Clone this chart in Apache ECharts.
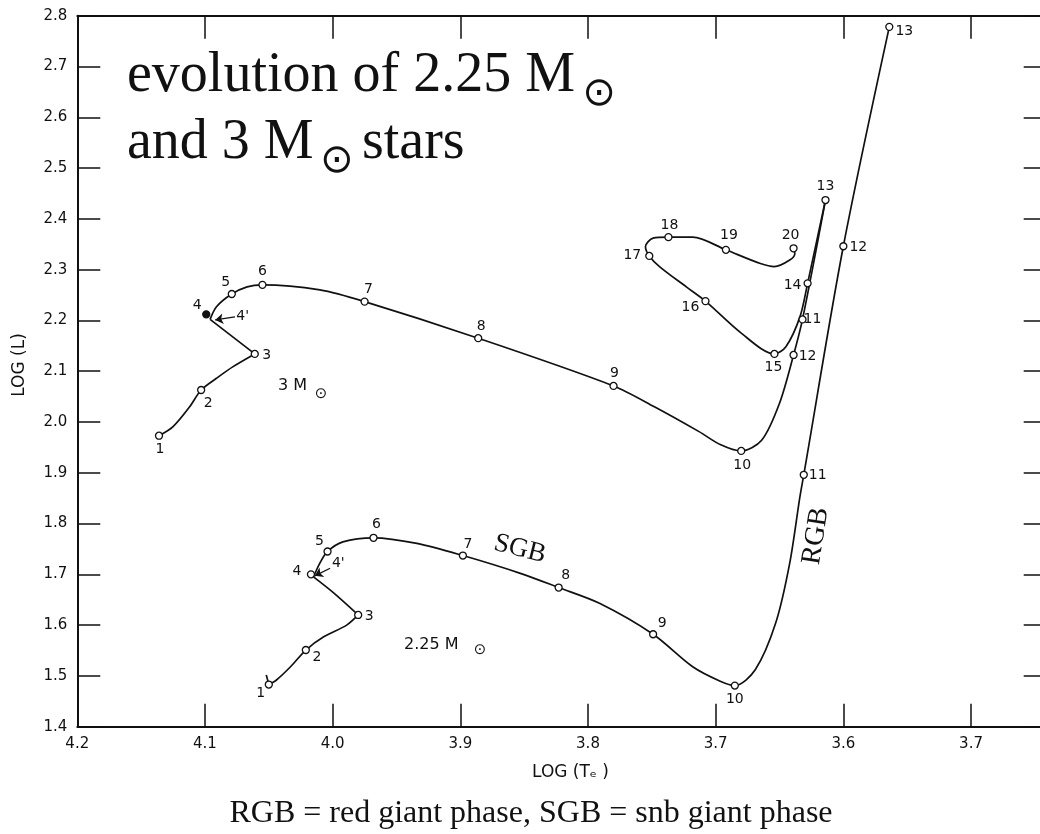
<!DOCTYPE html>
<html>
<head>
<meta charset="utf-8">
<script src="https://cdn.jsdelivr.net/npm/echarts@6/dist/echarts.min.js"></script>
<style>
  html, body { margin: 0; padding: 0; background: #ffffff; }
  #chart { width: 1040px; height: 834px; }
</style>
</head>
<body>
<div id="chart"></div>
<script>
// Evolutionary tracks in the HR diagram: [log Te, log L]
const track3 = [
  [4.136, 1.973], [4.125, 1.991], [4.112, 2.030], [4.103, 2.063], [4.091, 2.086], [4.078, 2.109], [4.061, 2.134],
  [4.096, 2.202], [4.091, 2.227], [4.079, 2.252], [4.067, 2.266], [4.055, 2.270], [4.010, 2.260], [3.975, 2.237],
  [3.886, 2.165], [3.780, 2.071], [3.748, 2.030], [3.713, 1.981], [3.696, 1.955], [3.680, 1.943], [3.664, 1.964],
  [3.650, 2.037], [3.639, 2.132], [3.632, 2.202], [3.614, 2.437],
  [3.628, 2.273], [3.634, 2.207], [3.645, 2.148], [3.654, 2.134], [3.680, 2.175], [3.708, 2.238], [3.723, 2.266],
  [3.744, 2.306], [3.752, 2.327], [3.755, 2.345], [3.749, 2.362], [3.737, 2.364], [3.718, 2.364], [3.692, 2.339],
  [3.665, 2.312], [3.654, 2.306], [3.642, 2.319], [3.638, 2.332], [3.639, 2.342]
];
const track3Corners = [6, 7, 24];

const track225 = [
  [4.052, 1.502], [4.050, 1.483], [4.044, 1.492], [4.033, 1.518], [4.021, 1.551], [4.007, 1.577], [3.989, 1.600],
  [3.980, 1.620], [3.999, 1.663], [4.015, 1.695], [4.010, 1.722], [4.004, 1.745], [3.992, 1.764], [3.968, 1.772],
  [3.934, 1.761], [3.898, 1.737], [3.853, 1.702], [3.823, 1.674], [3.791, 1.643], [3.749, 1.582], [3.718, 1.518],
  [3.696, 1.489], [3.685, 1.481], [3.669, 1.512], [3.653, 1.604], [3.642, 1.722], [3.634, 1.853], [3.631, 1.896],
  [3.600, 2.346], [3.564, 2.778]
];
const track225Corners = [1, 7, 9];

// Numbered evolutionary stages
const stages3 = ['1', '2', '3', '5', '6', '7', '8', '9', '10', '12', '11', '13', '14', '15', '16', '17', '18', '19', '20'];
const stage3Pts = [
  [4.136, 1.973], [4.103, 2.063], [4.061, 2.134], [4.079, 2.252], [4.055, 2.270], [3.975, 2.237], [3.886, 2.165],
  [3.780, 2.071], [3.680, 1.943], [3.639, 2.132], [3.632, 2.202], [3.614, 2.437], [3.628, 2.273], [3.654, 2.134],
  [3.708, 2.238], [3.752, 2.327], [3.737, 2.364], [3.692, 2.339], [3.639, 2.342]
];
const stage3Dot = ['4'];
const stage3DotPts = [[4.099, 2.212]];

const stages225 = ['1', '2', '3', '4', '5', '6', '7', '8', '9', '10', '11', '12', '13'];
const stage225Pts = [
  [4.050, 1.483], [4.021, 1.551], [3.980, 1.620], [4.017, 1.700], [4.004, 1.745], [3.968, 1.772], [3.898, 1.737],
  [3.823, 1.674], [3.749, 1.582], [3.685, 1.481], [3.631, 1.896], [3.600, 2.346], [3.564, 2.778]
];

// 4' arrows: [from, to]
const arrow3 = [[4.0765, 2.207], [4.092, 2.201]];
const arrow225 = [[4.002, 1.712], [4.014, 1.697]];

// Axis ticks
const xTickValues = [4.2, 4.1, 4.0, 3.9, 3.8, 3.7, 3.6, 3.5];
const xTickText = ['4.2', '4.1', '4.0', '3.9', '3.8', '3.7', '3.6', '3.7'];
const yTickValues = [1.4, 1.5, 1.6, 1.7, 1.8, 1.9, 2.0, 2.1, 2.2, 2.3, 2.4, 2.5, 2.6, 2.7, 2.8];
const yTickText = ['1.4', '1.5', '1.6', '1.7', '1.8', '1.9', '2.0', '2.1', '2.2', '2.3', '2.4', '2.5', '2.6', '2.7', '2.8'];

// Label placement (pixel offsets from each marker)
const labelOffset3 = [[1, 14], [7, 13], [12, 1], [-6, -12], [0, -14], [4, -12], [3, -12], [1, -13], [1, 14], [14, 1],
  [10, 0], [0, -14], [-15, 2], [-1, 13], [-15, 6], [-17, -1], [1, -12], [3, -14], [-3, -13]];
const labelOffset3Dot = [[-9, -9]];
const labelOffset225 = [[-8, 9], [11, 7], [11, 1], [-14, -3], [-8, -10], [3, -13], [5, -11], [7, -12], [9, -11],
  [0, 14], [14, 1], [15, 1], [15, 4]];

const INK = '#111111';
const SANS = '"DejaVu Sans", sans-serif';
const SERIF = '"Liberation Serif", serif';

function splitAt(track, corners) {
  const out = [];
  let s = 0;
  for (const c of corners) { out.push(track.slice(s, c + 1)); s = c; }
  out.push(track.slice(s));
  return out;
}

function lineSeries(piece) {
  return {
    type: 'line', data: piece, smooth: 0.3, showSymbol: false, silent: true, z: 2,
    lineStyle: { color: INK, width: 1.7 }
  };
}

function stageSeries(names, pts, offsets, filled) {
  return {
    type: 'scatter', z: 5, silent: true,
    symbol: 'circle', symbolSize: 7,
    itemStyle: { color: filled ? INK : '#ffffff', borderColor: INK, borderWidth: 1.3, opacity: 1 },
    label: {
      show: true, position: 'inside', align: 'center', verticalAlign: 'middle',
      fontFamily: SANS, fontSize: 14, color: INK,
      formatter: p => names[p.dataIndex]
    },
    data: pts.map((v, i) => ({ value: v, label: { offset: offsets[i] } }))
  };
}

function arrowLine(a) {
  return [{ coord: a[0], symbol: 'none' }, { coord: a[1], symbol: 'arrow' }];
}

const series = [];
splitAt(track3, track3Corners).forEach(p => series.push(lineSeries(p)));
splitAt(track225, track225Corners).forEach(p => series.push(lineSeries(p)));
series.push(stageSeries(stages3, stage3Pts, labelOffset3, false));
series.push(stageSeries(stage3Dot, stage3DotPts, labelOffset3Dot, true));
const s225 = stageSeries(stages225, stage225Pts, labelOffset225, false);
s225.markLine = {
  silent: true, animation: false, symbolSize: 8,
  lineStyle: { color: INK, width: 1.3, type: 'solid' },
  label: { show: false },
  data: [arrowLine(arrow3), arrowLine(arrow225)]
};
series.push(s225);

const tickFmt = (vals, txt) => v => {
  const i = vals.findIndex(t => Math.abs(t - v) < 1e-6);
  return i < 0 ? '' : txt[i];
};

const axisLineStyle = { color: INK, width: 2 };
const tickStyle = { color: INK, width: 1.5 };

const chart = echarts.init(document.getElementById('chart'), null, { renderer: 'canvas' });
chart.setOption({
  animation: false,
  backgroundColor: '#ffffff',
  grid: { left: 77.3, top: 15.7, width: 1021.4, height: 711, containLabel: false, outerBoundsMode: 'none' },
  xAxis: [
    {
      type: 'value', min: 3.4, max: 4.2, interval: 0.1, inverse: true, position: 'bottom',
      axisLine: { show: true, onZero: false, lineStyle: axisLineStyle },
      axisTick: { show: true, inside: true, length: 23, lineStyle: tickStyle },
      axisLabel: { show: true, margin: 10, fontFamily: SANS, fontSize: 15, color: INK,
        showMinLabel: true, showMaxLabel: true, formatter: tickFmt(xTickValues, xTickText) },
      splitLine: { show: false }
    },
    {
      type: 'value', min: 3.4, max: 4.2, interval: 0.1, inverse: true, position: 'top',
      axisLine: { show: true, onZero: false, lineStyle: axisLineStyle },
      axisTick: { show: true, inside: true, length: 23, lineStyle: tickStyle },
      axisLabel: { show: false }, splitLine: { show: false }
    }
  ],
  yAxis: [
    {
      type: 'value', min: 1.4, max: 2.8, interval: 0.1, position: 'left',
      axisLine: { show: true, onZero: false, lineStyle: axisLineStyle },
      axisTick: { show: true, inside: true, length: 23, lineStyle: tickStyle },
      axisLabel: { show: true, margin: 10, fontFamily: SANS, fontSize: 15, color: INK,
        showMinLabel: true, showMaxLabel: true, formatter: tickFmt(yTickValues, yTickText) },
      splitLine: { show: false }
    },
    {
      type: 'value', min: 1.4, max: 2.8, interval: 0.1, position: 'right', offset: -52,
      axisLine: { show: false },
      axisTick: { show: true, inside: true, length: 23, lineStyle: tickStyle },
      axisLabel: { show: false }, splitLine: { show: false }
    }
  ],
  series: series,
  graphic: [
    { type: 'text', x: 127, y: 76, style: { text: 'evolution of 2.25 M', font: '56px ' + SERIF, fill: INK, align: 'left', verticalAlign: 'middle' } },
    { type: 'text', x: 599, y: 95, style: { text: '⊙', font: '40px ' + SANS, fill: INK, align: 'center', verticalAlign: 'middle' } },
    { type: 'text', x: 127, y: 143, style: { text: 'and 3 M', font: '56px ' + SERIF, fill: INK, align: 'left', verticalAlign: 'middle' } },
    { type: 'text', x: 336.7, y: 162, style: { text: '⊙', font: '40px ' + SANS, fill: INK, align: 'center', verticalAlign: 'middle' } },
    { type: 'text', x: 362, y: 143, style: { text: 'stars', font: '56px ' + SERIF, fill: INK, align: 'left', verticalAlign: 'middle' } },

    { type: 'text', x: 278, y: 386, style: { text: '3 M', font: '16px ' + SANS, fill: INK, align: 'left', verticalAlign: 'middle' } },
    { type: 'text', x: 321, y: 394, style: { text: '⊙', font: '15px ' + SANS, fill: INK, align: 'center', verticalAlign: 'middle' } },
    { type: 'text', x: 404, y: 644.5, style: { text: '2.25 M', font: '16px ' + SANS, fill: INK, align: 'left', verticalAlign: 'middle' } },
    { type: 'text', x: 480, y: 650, style: { text: '⊙', font: '15px ' + SANS, fill: INK, align: 'center', verticalAlign: 'middle' } },

    { type: 'text', x: 242.7, y: 316, style: { text: "4'", font: '14px ' + SANS, fill: INK, align: 'center', verticalAlign: 'middle' } },
    { type: 'text', x: 338.3, y: 563.3, style: { text: "4'", font: '14px ' + SANS, fill: INK, align: 'center', verticalAlign: 'middle' } },

    { type: 'text', x: 520, y: 549, rotation: -0.244, style: { text: 'SGB', font: '27px ' + SERIF, fill: INK, align: 'center', verticalAlign: 'middle' } },
    { type: 'text', x: 816, y: 536, rotation: 1.417, style: { text: 'RGB', font: '28px ' + SERIF, fill: INK, align: 'center', verticalAlign: 'middle' } },

    { type: 'text', x: 20, y: 365, rotation: Math.PI / 2, style: { text: 'LOG (L)', font: '17px ' + SANS, fill: INK, align: 'center', verticalAlign: 'middle' } },
    { type: 'text', x: 570.5, y: 773, style: { text: 'LOG (Tₑ )', font: '17px ' + SANS, fill: INK, align: 'center', verticalAlign: 'middle' } },

    { type: 'text', x: 531, y: 813.5, style: { text: 'RGB = red giant phase, SGB = snb giant phase', font: '32px ' + SERIF, fill: INK, align: 'center', verticalAlign: 'middle' } }
  ]
});
</script>
</body>
</html>
